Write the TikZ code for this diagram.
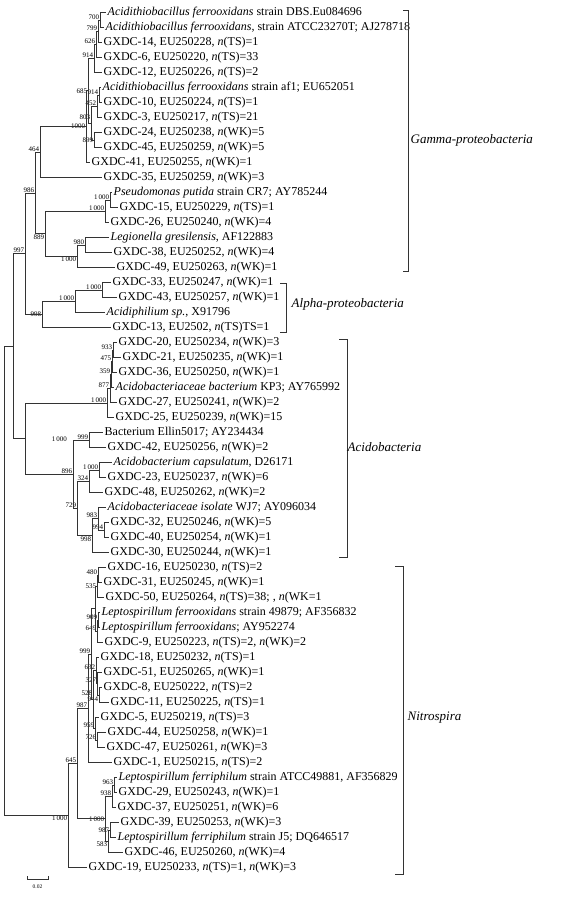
\documentclass[tikz,border=0pt]{standalone}
\usepackage{fontspec}
\setmainfont{Liberation Serif}
\newcommand\leaffont{\fontsize{12}{13}\selectfont}
\newcommand\bsfont{\fontsize{7}{8}\selectfont}
\newcommand\grpfont{\fontsize{13}{14}\selectfont\itshape}
\tikzset{
  br/.style={draw=black!80, line width=0.8pt},
  leaf/.style={anchor=west, inner xsep=1.5pt, inner ysep=0pt, font=\leaffont},
  bs/.style={font=\bsfont, inner sep=0.6pt},
  grp/.style={anchor=west, inner sep=1.5pt, font=\grpfont}
}
\begin{document}
\begin{tikzpicture}[x=1pt, y=-1pt]
	\useasboundingbox (0,0) rectangle (572,897);
	
	% leaves
	\foreach \i/\x/\t in {
		1/106/{\textit{Acidithiobacillus ferrooxidans} strain DBS.Eu084696},
		2/104/{\textit{Acidithiobacillus ferrooxidans}, strain ATCC23270T; AJ278718},
		3/102/{GXDC-14, EU250228, \textit{n}(TS)=1},
		4/102/{GXDC-6, EU250220, \textit{n}(TS)=33},
		5/102/{GXDC-12, EU250226, \textit{n}(TS)=2},
		6/101/{\textit{Acidithiobacillus ferrooxidans} strain af1; EU652051},
		7/102/{GXDC-10, EU250224, \textit{n}(TS)=1},
		8/102/{GXDC-3, EU250217, \textit{n}(TS)=21},
		9/102/{GXDC-24, EU250238, \textit{n}(WK)=5},
		10/102/{GXDC-45, EU250259, \textit{n}(WK)=5},
		11/90/{GXDC-41, EU250255, \textit{n}(WK)=1},
		12/102/{GXDC-35, EU250259, \textit{n}(WK)=3},
		13/112/{\textit{Pseudomonas putida} strain CR7; AY785244},
		14/118/{GXDC-15, EU250229, \textit{n}(TS)=1},
		15/109/{GXDC-26, EU250240, \textit{n}(WK)=4},
		16/109/{\textit{Legionella gresilensis}, AF122883},
		17/112/{GXDC-38, EU250252, \textit{n}(WK)=4},
		18/115/{GXDC-49, EU250263, \textit{n}(WK)=1},
		19/111/{GXDC-33, EU250247, \textit{n}(WK)=1},
		20/117/{GXDC-43, EU250257, \textit{n}(WK)=1},
		21/105/{\textit{Acidiphilium sp.}, X91796},
		22/111/{GXDC-13, EU2502, \textit{n}(TS)TS=1},
		23/117/{GXDC-20, EU250234, \textit{n}(WK)=3},
		24/121/{GXDC-21, EU250235, \textit{n}(WK)=1},
		25/117/{GXDC-36, EU250250, \textit{n}(WK)=1},
		26/114/{\textit{Acidobacteriaceae bacterium} KP3; AY765992},
		27/117/{GXDC-27, EU250241, \textit{n}(WK)=2},
		28/114/{GXDC-25, EU250239, \textit{n}(WK)=15},
		29/103/{Bacterium Ellin5017; AY234434},
		30/106/{GXDC-42, EU250256, \textit{n}(WK)=2},
		31/112/{\textit{Acidobacterium capsulatum}, D26171},
		32/106/{GXDC-23, EU250237, \textit{n}(WK)=6},
		33/103/{GXDC-48, EU250262, \textit{n}(WK)=2},
		34/106/{\textit{Acidobacteriaceae isolate} WJ7; AY096034},
		35/109/{GXDC-32, EU250246, \textit{n}(WK)=5},
		36/109/{GXDC-40, EU250254, \textit{n}(WK)=1},
		37/109/{GXDC-30, EU250244, \textit{n}(WK)=1},
		38/106/{GXDC-16, EU250230, \textit{n}(TS)=2},
		39/102/{GXDC-31, EU250245, \textit{n}(WK)=1},
		40/104/{GXDC-50, EU250264, \textit{n}(TS)=38; , \textit{n}(WK=1},
		41/100/{\textit{Leptospirillum ferrooxidans} strain 49879; AF356832},
		42/100/{\textit{Leptospirillum ferrooxidans}; AY952274},
		43/103/{GXDC-9, EU250223, \textit{n}(TS)=2, \textit{n}(WK)=2},
		44/99/{GXDC-18, EU250232, \textit{n}(TS)=1},
		45/102/{GXDC-51, EU250265, \textit{n}(WK)=1},
		46/102/{GXDC-8, EU250222, \textit{n}(TS)=2},
		47/109/{GXDC-11, EU250225, \textit{n}(TS)=1},
		48/99/{GXDC-5, EU250219, \textit{n}(TS)=3},
		49/106/{GXDC-44, EU250258, \textit{n}(WK)=1},
		50/105/{GXDC-47, EU250261, \textit{n}(WK)=3},
		51/112/{GXDC-1, EU250215, \textit{n}(TS)=2},
		52/117/{\textit{Leptospirillum ferriphilum} strain ATCC49881, AF356829},
		53/117/{GXDC-29, EU250243, \textit{n}(WK)=1},
		54/116/{GXDC-37, EU250251, \textit{n}(WK)=6},
		55/119/{GXDC-39, EU250253, \textit{n}(WK)=3},
		56/116/{\textit{Leptospirillum ferriphilum} strain J5; DQ646517},
		57/123/{GXDC-46, EU250260, \textit{n}(WK)=4},
		58/87/{GXDC-19, EU250233, \textit{n}(TS)=1, \textit{n}(WK)=3}}
		\node[leaf] (l\i) at (\x, {12.5+15*(\i-1)}) {\t};
	
	% inner nodes, bootstrap values
	\coordinate[label={[bs]above left:700}] (n700) at (100,20);
	\coordinate[label={[bs]above left:799}] (n799) at (98,31.3);
	\coordinate[label={[bs]above left:626}] (n626) at (96,44.4);
	\coordinate[label={[bs]above left:914}] (n914a) at (94,58.4);
	\coordinate[label={[bs]above left:914}] (n914b) at (99,95);
	\coordinate[label={[bs]above left:452}] (n452) at (97,106.3);
	\coordinate[label={[bs]left:899}] (n899) at (94,140);
	\coordinate[label={[bs, yshift=3pt]above left:803}] (n803) at (91,123.1);
	\coordinate[label={[bs]left:685}] (n685) at (88,90.8);
	\coordinate[label={[bs]left:1000}] (nGam) at (86,126.6);
	\coordinate[label={[bs]above left:464}] (n464) at (40,152);
	\coordinate[label={[bs]above left:1\,000}] (nPs2) at (110,200);
	\coordinate[label={[bs]above left:1\,000}] (nPs) at (105,211.3);
	\coordinate[label={[bs]above left:980}] (nLeg2) at (85,245);
	\coordinate[label={[bs]below left:1\,000}] (nLeg) at (77,256.3);
	\coordinate[label={[bs]below left:889}] (n889) at (45,233.8);
	\coordinate[label={[bs]above left:986}] (n986) at (35,192.9);
	\coordinate[label={[bs]above left:1\,000}] (nAl2) at (102,290);
	\coordinate[label={[bs]above left:1\,000}] (nAl) at (75,301.3);
	\coordinate[label={[bs]left:998}] (n998a) at (42,314.4);
	\coordinate[label={[bs]above left:997}] (n997) at (25,253.6);
	\coordinate[label={[bs]above left:933}] (n933) at (113,350);
	\coordinate[label={[bs]above left:475}] (n475) at (112,361.3);
	\coordinate[label={[bs]above left:359}] (n359) at (111,374.4);
	\coordinate[label={[bs]above left:877}] (n877) at (110,388.4);
	\coordinate[label={[bs]above left:1\,000}] (n1000a) at (107,403);
	\coordinate[label={[bs]above left:999}] (n999) at (89,440);
	\coordinate[label={[bs]above left:1\,000}] (n1000c) at (99,470);
	\coordinate[label={[bs]above left:324}] (n324) at (89,481.3);
	\coordinate[label={[bs]above left:994}] (n994) at (104,530);
	\coordinate[label={[bs]above left:983}] (n983) at (98,518.8);
	\coordinate[label={[bs]below left:998}] (n998b) at (92,535.6);
	\coordinate[label={[bs]above left:729}] (n729) at (77,508.4);
	\coordinate[label={[bs]above left:896}] (n896) at (73,474.2);
	\coordinate[label={[bs, xshift=26pt, yshift=-4pt]above right:1\,000}] (nAcido) at (25,438.6);
	\coordinate (n13) at (13,346.1);
	\coordinate[label={[bs]above left:480}] (n480) at (98,575);
	\coordinate[label={[bs]left:535}] (n535) at (97,586.3);
	\coordinate[label={[bs]above left:909}] (n909) at (98,620);
	\coordinate[label={[bs]above left:649}] (n649) at (97,631.3);
	\coordinate (nTop) at (95,608.8);
	\coordinate[label={[bs, yshift=-1pt]below left:944}] (n944) at (99,695);
	\coordinate[label={[bs]above left:327}] (n327) at (97,683.8);
	\coordinate[label={[bs]above left:632}] (n632) at (96,670.6);
	\coordinate[label={[bs]above left:726}] (n726) at (97,740);
	\coordinate[label={[bs]above left:959}] (n959) at (95,728.8);
	\coordinate[label={[bs, yshift=3.5pt]above left:528}] (nMid) at (93,699.7);
	\coordinate[label={[bs]above left:999}] (n999N) at (91,654.2);
	\coordinate[label={[bs]above left:987}] (n987) at (88,708.4);
	\coordinate[label={[bs]above left:963}] (n963) at (114,785);
	\coordinate[label={[bs]above left:938}] (n938) at (112,796.3);
	\coordinate[label={[bs]left:987}] (n987F) at (110,830);
	\coordinate[label={[bs]below left:583}] (n583) at (108,841.3);
	\coordinate[label={[bs]left:1\,000}] (n1000F) at (105,818.8);
	\coordinate[label={[bs]above left:645}] (n645) at (77,763.6);
	\coordinate[label={[bs]below left:1\,000}] (n1000N) at (68,815.5);
	\coordinate (root) at (4,580.8);
	
	% branches
	\foreach \p/\c in {n700/l1.west, n700/l2.west, n799/n700, n799/l3.west,
		n626/n799, n626/l4.west, n914a/n626, n914a/l5.west,
		n914b/l6.west, n914b/l7.west, n452/n914b, n452/l8.west,
		n899/l9.west, n899/l10.west, n803/n452, n803/n899,
		n685/n914a, n685/n803, nGam/n685, nGam/l11.west,
		n464/nGam, n464/l12.west, nPs2/l13.west, nPs2/l14.west,
		nPs/nPs2, nPs/l15.west, nLeg2/l16.west, nLeg2/l17.west,
		nLeg/nLeg2, nLeg/l18.west, n889/nPs, n889/nLeg,
		n986/n464, n986/n889, nAl2/l19.west, nAl2/l20.west,
		nAl/nAl2, nAl/l21.west, n998a/nAl, n998a/l22.west,
		n997/n986, n997/n998a, n933/l23.west, n933/l24.west,
		n475/n933, n475/l25.west, n359/n475, n359/l26.west,
		n877/n359, n877/l27.west, n1000a/n877, n1000a/l28.west,
		n999/l29.west, n999/l30.west, n1000c/l31.west, n1000c/l32.west,
		n324/n1000c, n324/l33.west, n994/l35.west, n994/l36.west,
		n983/l34.west, n983/n994, n998b/n983, n998b/l37.west,
		n729/n324, n729/n998b, n896/n999, n896/n729,
		nAcido/n1000a, nAcido/n896, n13/n997, n13/nAcido,
		n480/l38.west, n480/l39.west, n535/n480, n535/l40.west,
		n909/l41.west, n909/l42.west, n649/n909, n649/l43.west,
		nTop/n535, nTop/n649, n944/l46.west, n944/l47.west,
		n327/l45.west, n327/n944, n632/l44.west, n632/n327,
		n726/l49.west, n726/l50.west, n959/l48.west, n959/n726,
		nMid/n632, nMid/n959, n999N/nTop, n999N/nMid,
		n987/n999N, n987/l51.west, n963/l52.west, n963/l53.west,
		n938/n963, n938/l54.west, n987F/l55.west, n987F/l56.west,
		n583/n987F, n583/l57.west, n1000F/n938, n1000F/n583,
		n645/n987, n645/n1000F, n1000N/n645, n1000N/l58.west,
		root/n13, root/n1000N}
		\draw[br] (\p) |- (\c);
	
	% groups
	\draw[br] (403,10) -| (408,271) -- (403,271);
	\node[grp] (gamma) at (409,140) {Gamma-proteobacteria};
	\draw[br] (280,283) -| (286,332) -- (280,332);
	\node[grp] (alpha) at (290,304) {Alpha-proteobacteria};
	\draw[br] (339,339) -| (347,557) -- (339,557);
	\node[grp] (acido) at (346,447) {Acidobacteria};
	\draw[br] (395,566) -| (403,874) -- (395,874);
	\node[grp] (nitro) at (406,718) {Nitrospira};
	
	% scale
	\draw[br, line width=0.6pt] (27,876) -- (27,879) -- (48,879) -- (48,876);
	\node[font=\fontsize{5.5}{6}\selectfont, inner sep=0.5pt] (scl) at (37.5,887) {0.02};
\end{tikzpicture}
\end{document}
